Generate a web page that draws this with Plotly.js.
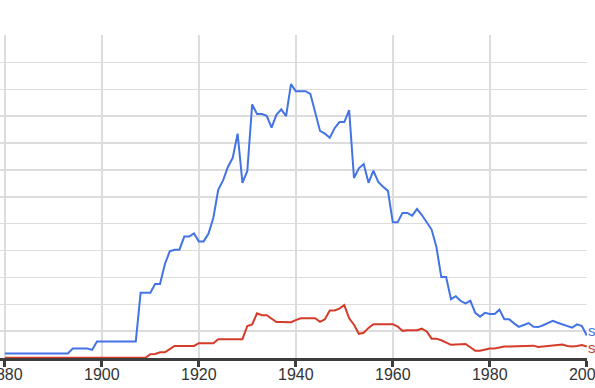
<!DOCTYPE html>
<html>
<head>
<meta charset="utf-8">
<script src="https://cdn.plot.ly/plotly-3.0.1.min.js"></script>
<style>
html,body{margin:0;padding:0;background:#fff;overflow:hidden;}
#chart{width:595px;height:388px;}
</style>
</head>
<body>
<div id="chart"></div>
<script>
const startYear = 1880;
const endYear = 2000;
const years = [];
for (let y = startYear; y <= endYear; y++) years.push(y);

const blueLabel = "s";
const redLabel = "s";

const blueValues = [
  0.17,0.17,0.17,0.17,0.17,0.17,0.17,0.17,0.17,0.17, // 1880-1889
  0.17,0.17,0.17,0.17,0.35,0.35,0.35,0.35,0.30,0.61, // 1890-1899
  0.61,0.61,0.61,0.61,0.61,0.61,0.61,0.61,2.43,2.43, // 1900-1909
  2.43,2.75,2.75,3.49,3.97,4.03,4.03,4.52,4.52,4.64, // 1910-1919
  4.34,4.34,4.63,5.22,6.26,6.61,7.11,7.45,8.35,6.52, // 1920-1929
  6.96,9.44,9.08,9.08,9.01,8.57,9.05,9.25,9.00,10.19, // 1930-1939
  9.93,9.93,9.93,9.83,9.14,8.45,8.35,8.20,8.55,8.78, // 1940-1949
  8.78,9.22,6.70,7.06,7.22,6.52,6.97,6.55,6.37,6.22, // 1950-1959
  5.05,5.05,5.40,5.40,5.30,5.55,5.32,5.07,4.78,4.13, // 1960-1969
  3.01,3.01,2.19,2.30,2.12,2.03,2.13,1.68,1.54,1.68, // 1970-1979
  1.64,1.64,1.80,1.44,1.44,1.29,1.16,1.23,1.30,1.16, // 1980-1989
  1.15,1.22,1.30,1.38,1.31,1.25,1.19,1.13,1.25,1.19, // 1990-1999
  0.84                                               // 2000
];

const redValues = [
  0.01,0.01,0.01,0.01,0.01,0.01,0.01,0.01,0.01,0.01, // 1880-1889
  0.01,0.01,0.01,0.01,0.01,0.01,0.01,0.01,0.01,0.01, // 1890-1899
  0.01,0.01,0.01,0.01,0.01,0.01,0.01,0.01,0.01,0.01, // 1900-1909
  0.14,0.15,0.21,0.21,0.33,0.45,0.45,0.45,0.45,0.45, // 1910-1919
  0.55,0.55,0.55,0.55,0.70,0.70,0.70,0.70,0.70,0.70, // 1920-1929
  1.19,1.25,1.66,1.59,1.59,1.47,1.34,1.34,1.34,1.33, // 1930-1939
  1.41,1.48,1.48,1.48,1.48,1.35,1.44,1.77,1.77,1.84, // 1940-1949
  1.97,1.48,1.24,0.90,0.94,1.12,1.26,1.26,1.26,1.26, // 1950-1959
  1.26,1.17,1.01,1.03,1.03,1.03,1.09,0.99,0.72,0.72, // 1960-1969
  0.66,0.56,0.49,0.50,0.52,0.52,0.40,0.27,0.27,0.31, // 1970-1979
  0.35,0.35,0.39,0.43,0.43,0.44,0.45,0.45,0.46,0.46, // 1980-1989
  0.41,0.43,0.45,0.46,0.47,0.50,0.45,0.43,0.45,0.48, // 1990-1999
  0.43                                               // 2000
];

const xTicks = [1880,1900,1920,1940,1960,1980,2000];
const xTickText = ["1880","1900","1920","1940","1960","1980","2000"];

const BLUE = '#4473e6';
const RED = '#d43b28';

const traces = [
  {x: years, y: blueValues, type: 'scatter', mode: 'lines', line: {color: BLUE, width: 2}, hoverinfo: 'skip'},
  {x: years, y: redValues, type: 'scatter', mode: 'lines', line: {color: RED, width: 2}, hoverinfo: 'skip'}
];

const layout = {
  width: 595, height: 388,
  margin: {l: 0, r: 8, t: 35, b: 30, pad: 0},
  paper_bgcolor: '#fff', plot_bgcolor: '#fff',
  showlegend: false,
  xaxis: {
    range: [1879, 2000.05], showgrid: true, gridcolor: '#dcdcdc', gridwidth: 1.5,
    tickvals: xTicks, ticktext: xTickText, ticks: 'outside', ticklen: 6, tickwidth: 3, tickcolor: '#3d3d3d',
    showline: true, linecolor: '#3d3d3d', linewidth: 3, zeroline: false,
    tickfont: {family: 'Arial, Liberation Sans, sans-serif', size: 16, color: '#333'},
    ticklabelstandoff: -6,
    ticklabeloverflow: 'allow', fixedrange: true
  },
  yaxis: {
    range: [0, 12.02], dtick: 1, tick0: 0, showgrid: true, gridcolor: '#dcdcdc', gridwidth: 1.5,
    showticklabels: false, ticks: '', zeroline: false, showline: false, fixedrange: true
  },
  annotations: [
    {xref: 'paper', x: 1, xanchor: 'left', xshift: 0, yref: 'y', y: blueValues[blueValues.length-1], yshift: 5,
     borderpad: 0, text: blueLabel, showarrow: false, font: {family: 'Arial, Liberation Sans, sans-serif', size: 15, color: BLUE}},
    {xref: 'paper', x: 1, xanchor: 'left', xshift: 0, yref: 'y', y: redValues[redValues.length-1], yshift: -1,
     borderpad: 0, text: redLabel, showarrow: false, font: {family: 'Arial, Liberation Sans, sans-serif', size: 15, color: RED}}
  ]
};

Plotly.newPlot('chart', traces, layout, {displayModeBar: false, staticPlot: true});
</script>
</body>
</html>
